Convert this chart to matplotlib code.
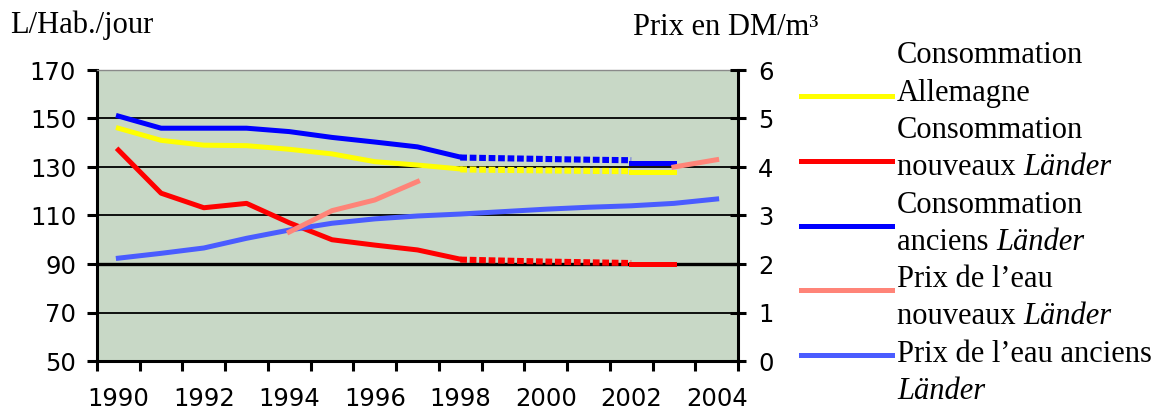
import matplotlib
matplotlib.use("Agg")
import matplotlib.pyplot as plt
from matplotlib.lines import Line2D
from matplotlib.ticker import MultipleLocator, FixedLocator

# --- data -------------------------------------------------------------
years_obs = [1990, 1991, 1992, 1993, 1994, 1995, 1996, 1997, 1998]
years_est = [1998, 1999, 2000, 2001, 2002]
years_end = [2002, 2003]
years_all = list(range(1990, 2005))

# consumption, litres per inhabitant per day (left axis)
conso_de = [146, 141, 139, 138.8, 137.3, 135.4, 132.2, 130.8, 129.2]
conso_de_est = [129.0, 128.8, 128.6, 128.4, 128.3]
conso_de_end = [127.8, 127.8]

conso_new = [137, 119.2, 113.2, 115, 107, 100, 97.8, 95.8, 92]
conso_new_est = [91.8, 91.4, 91.0, 90.7, 90.4]
conso_new_end = [90, 90]

conso_old = [151, 146, 146, 146, 144.6, 142.2, 140.3, 138.3, 134.1]
conso_old_est = [133.9, 133.6, 133.3, 133.0, 132.8]
conso_old_end = [131.8, 131.8]

# water price, DM per m3 (right axis)
price_new_years_a = [1994, 1995, 1996, 1997]
price_new_a = [2.66, 3.1, 3.32, 3.7]
price_new_years_b = [2003, 2004]
price_new_b = [4.0, 4.15]

price_old = [2.12, 2.22, 2.33, 2.53, 2.7, 2.84, 2.93, 2.99, 3.03, 3.08,
             3.13, 3.17, 3.2, 3.25, 3.34]

left_ticks = [50, 70, 90, 110, 130, 150, 170]
right_ticks = [0, 1, 2, 3, 4, 5, 6]
grid_levels = [70, 90, 110, 130, 150]
year_labels = [1990, 1992, 1994, 1996, 1998, 2000, 2002, 2004]

YELLOW = "#ffff00"
RED = "#ff0000"
BLUE = "#0000ff"
PINK = "#ff8478"
LIGHTBLUE = "#4a5cff"

SERIF = "Liberation Serif"
W, H = 1165, 411

fig = plt.figure(figsize=(W / 100, H / 100), dpi=100)
ax = fig.add_axes([97 / W, 1 - 361 / H, (738 - 97) / W, (361 - 70) / H])
ax.set_facecolor("#c8d8c6")

ax.set_xlim(1989.5, 2004.5)
ax.set_ylim(50, 170)

for lvl in grid_levels:
    ax.axhline(lvl, color="black", lw=2.4 if lvl == 90 else 1.3, zorder=1)

lw = 3.6
# square-dot style of the estimated years
dot_lw = 4.4
dots = (0, (1.1, 0.45))

ax.plot(years_obs, conso_de, color=YELLOW, lw=lw, zorder=3)
ax.plot(years_est, conso_de_est, color=YELLOW, lw=dot_lw, ls=dots, zorder=3)
ax.plot(years_end, conso_de_end, color=YELLOW, lw=lw, zorder=3)

ax.plot(years_obs, conso_old, color=BLUE, lw=lw, zorder=3)
ax.plot(years_est, conso_old_est, color=BLUE, lw=dot_lw, ls=dots, zorder=3)
ax.plot(years_end, conso_old_end, color=BLUE, lw=lw, zorder=3)

ax.plot(years_obs, conso_new, color=RED, lw=lw, zorder=3)
ax.plot(years_est, conso_new_est, color=RED, lw=dot_lw, ls=dots, zorder=3)
ax.plot(years_end, conso_new_end, color=RED, lw=lw, zorder=3)

# spines and ticks of the left / bottom axes
for side in ("left", "bottom"):
    ax.spines[side].set_linewidth(2.2)
ax.spines["right"].set_visible(False)
ax.spines["top"].set_color("#8a8a8a")
ax.spines["top"].set_linewidth(1.0)

ax.yaxis.set_major_locator(FixedLocator(left_ticks))
ax.tick_params(axis="y", which="major", direction="out", length=7,
               width=2.2, pad=8, labelsize=17.5)

ax.xaxis.set_major_locator(FixedLocator(year_labels))
ax.xaxis.set_minor_locator(MultipleLocator(1, offset=0.5))
ax.tick_params(axis="x", which="major", length=0, pad=19, labelsize=17.5)
ax.tick_params(axis="x", which="minor", direction="out", length=7, width=2.2)

# price axis on the right
ax2 = ax.twinx()
ax2.set_ylim(0, 6)
ax2.plot(years_all, price_old, color=LIGHTBLUE, lw=lw, zorder=3)
ax2.plot(price_new_years_a, price_new_a, color=PINK, lw=lw, zorder=3)
ax2.plot(price_new_years_b, price_new_b, color=PINK, lw=lw, zorder=3)
for side in ("left", "top", "bottom"):
    ax2.spines[side].set_visible(False)
ax2.spines["right"].set_linewidth(2.2)
ax2.yaxis.set_major_locator(FixedLocator(right_ticks))
ax2.tick_params(axis="y", direction="inout", length=11, width=2.2, pad=9,
                labelsize=17.5)

# axis titles
fig.text(10 / W, 1 - 33 / H, "L/Hab./jour", family=SERIF, fontsize=22,
         va="baseline")
fig.text(633 / W, 1 - 35 / H, "Prix en DM/m³", family=SERIF, fontsize=22,
         va="baseline")

# legend, drawn by hand to keep the two-line labels
legend_colors = [YELLOW, RED, BLUE, PINK, LIGHTBLUE]
legend_lines = [
    [("Consommation", False)],
    [("Allemagne", False)],
    [("Consommation", False)],
    [("nouveaux ", False), ("Länder", True)],
    [("Consommation", False)],
    [("anciens ", False), ("Länder", True)],
    [("Prix de l’eau", False)],
    [("nouveaux ", False), ("Länder", True)],
    [("Prix de l’eau anciens", False)],
    [("Länder", True)],
]

for i, color in enumerate(legend_colors):
    y = 1 - (96 + 64.8 * i) / H
    fig.add_artist(Line2D([801 / W, 892 / W], [y, y], color=color, lw=lw,
                          transform=fig.transFigure))

renderer = fig.canvas.get_renderer()
for j, parts in enumerate(legend_lines):
    y = 1 - (63.3 + 37.3 * j) / H
    x = 897 / W
    for text, italic in parts:
        t = fig.text(x, y, text, family=SERIF, fontsize=22, va="baseline",
                     style="italic" if italic else "normal")
        bb = t.get_window_extent(renderer)
        x += bb.width / W

fig.savefig("out.png", dpi=100)
